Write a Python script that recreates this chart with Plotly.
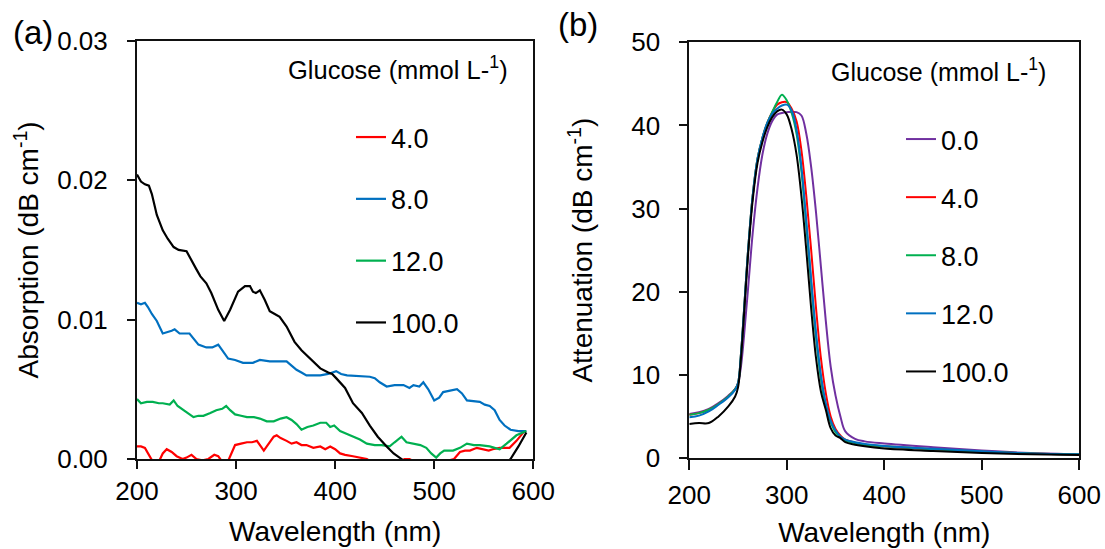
import plotly.graph_objects as go

# ---------------- data: panel (a) absorption ----------------
a_black_x = [200, 204, 208, 212, 215, 220, 226, 231, 237, 242, 250, 255, 260, 264, 270, 275, 282, 288, 294, 302,
             309, 314, 317, 320, 324, 329, 334, 339, 344, 351, 359, 366, 375, 385, 393, 397, 401, 405, 410, 418,
             427, 435, 443, 452, 459, 467, 472, 480, 500, 530, 560, 572, 577, 585, 593]
a_black_y = [0.0204, 0.0199, 0.0197, 0.0196, 0.0190, 0.0175, 0.0164, 0.0158, 0.0152, 0.0150,
             0.0149, 0.0143, 0.0136, 0.0131, 0.0126, 0.0119, 0.0107, 0.0099, 0.0107, 0.0120,
             0.0124, 0.0124, 0.0120, 0.0119, 0.0121, 0.0114, 0.0106, 0.0104, 0.0102, 0.0095,
             0.0084, 0.0078, 0.0072, 0.0065, 0.0062, 0.0061, 0.0058, 0.0055, 0.0051, 0.0040,
             0.0033, 0.0024, 0.0016, 0.0009, 0.0004, 0.0000, -0.0003, -0.0008, -0.0015, -0.0015,
             -0.0008, -0.0003, 0.0000, 0.0009, 0.0019]

a_blue_x = [200, 204, 208, 211, 215, 220, 226, 231, 235, 238, 243, 253, 258, 262, 270, 276, 282, 287, 292, 299,
            303, 307, 317, 324, 334, 351, 356, 361, 366, 371, 385, 393, 401, 406, 412, 435, 440, 445, 452, 460,
            469, 475, 479, 485, 489, 494, 500, 505, 509, 516, 523, 528, 533, 546, 551, 556, 561, 566, 571, 577,
            585, 593]
a_blue_y = [0.0112, 0.0111, 0.0112, 0.0109, 0.0104, 0.0099, 0.0090, 0.0091, 0.0092, 0.0093,
            0.0090, 0.0090, 0.0086, 0.0082, 0.0080, 0.0080, 0.0082, 0.0077, 0.0072, 0.0071,
            0.0070, 0.0069, 0.0069, 0.0071, 0.0070, 0.0070, 0.0067, 0.0064, 0.0062, 0.0060,
            0.0060, 0.0061, 0.0063, 0.0061, 0.0060, 0.0059, 0.0058, 0.0055, 0.0052, 0.0053,
            0.0053, 0.0051, 0.0053, 0.0052, 0.0055, 0.0050, 0.0042, 0.0044, 0.0048, 0.0049,
            0.0050, 0.0047, 0.0042, 0.0041, 0.0039, 0.0038, 0.0035, 0.0028, 0.0024, 0.0021,
            0.0020, 0.0020]

a_green_x = [200, 204, 210, 216, 222, 226, 233, 237, 241, 245, 251, 257, 262, 267, 274, 280, 286, 290, 294, 299,
             305, 311, 318, 324, 331, 338, 345, 351, 356, 361, 366, 372, 378, 385, 391, 395, 399, 405, 412, 418,
             425, 432, 440, 447, 455, 460, 467, 472, 480, 486, 492, 497, 502, 506, 510, 519, 526, 533, 540, 546,
             556, 566, 573, 583, 593]
a_green_y = [0.0043, 0.0040, 0.0041, 0.0041, 0.0040, 0.0040, 0.0039, 0.0042, 0.0038, 0.0036,
             0.0033, 0.0030, 0.0031, 0.0031, 0.0033, 0.0035, 0.0036, 0.0038, 0.0035, 0.0032,
             0.0031, 0.0030, 0.0030, 0.0029, 0.0027, 0.0027, 0.0029, 0.0030, 0.0028, 0.0025,
             0.0021, 0.0023, 0.0024, 0.0026, 0.0026, 0.0023, 0.0024, 0.0020, 0.0018, 0.0016,
             0.0014, 0.0011, 0.0010, 0.0010, 0.0009, 0.0012, 0.0016, 0.0012, 0.0011, 0.0010,
             0.0008, 0.0004, 0.0001, 0.0004, 0.0006, 0.0006, 0.0008, 0.0011, 0.0010, 0.0010,
             0.0009, 0.0007, 0.0011, 0.0017, 0.0020]

a_red_x = [200, 204, 208, 212, 216, 222, 226, 230, 235, 240, 246, 250, 255, 260, 266, 272, 278, 282, 287, 291,
           295, 299, 305, 311, 316, 321, 325, 328, 331, 334, 338, 341, 345, 351, 356, 361, 366, 371, 378, 385,
           390, 395, 400, 405, 410, 418, 425, 432, 440, 450, 462, 470, 475, 480, 490, 505, 515, 520, 526, 531,
           536, 543, 549, 555, 559, 566, 571, 576, 583, 591]
a_red_y = [0.0009, 0.0009, 0.0008, 0.0003, -0.0002, -0.0002, 0.0004, 0.0007, 0.0005, 0.0002,
           0.0000, 0.0001, 0.0003, 0.0000, -0.0001, 0.0000, 0.0003, 0.0002, -0.0003, -0.0003,
           0.0003, 0.0010, 0.0011, 0.0012, 0.0012, 0.0013, 0.0009, 0.0006, 0.0009, 0.0012,
           0.0016, 0.0017, 0.0015, 0.0013, 0.0011, 0.0012, 0.0010, 0.0010, 0.0008, 0.0009,
           0.0007, 0.0009, 0.0007, 0.0004, 0.0003, 0.0002, 0.0001, 0.0000, -0.0004, -0.0006,
           -0.0003, 0.0000, 0.0000, -0.0002, -0.0006, -0.0006, -0.0001, 0.0000, 0.0005, 0.0006,
           0.0006, 0.0008, 0.0007, 0.0006, 0.0007, 0.0008, 0.0008, 0.0008, 0.0013, 0.0020]

# ---------------- data: panel (b) attenuation ----------------
b_x = [200, 210, 220, 230, 240, 247, 250, 253, 256, 260, 265, 270, 275, 280, 285, 290, 295, 300, 305, 310,
       315, 320, 325, 330, 335, 340, 345, 350, 355, 360, 370, 380, 400, 450, 500, 550, 600]
b_purple = [5.3, 5.5, 5.9, 6.6, 7.5, 8.3, 9.0, 11.0, 14.5, 20.0, 27.0, 32.5, 36.5, 39.0, 40.5, 41.3, 41.5, 41.6, 41.6, 41.6,
            41.2, 39.0, 35.0, 29.5, 23.0, 16.5, 11.0, 7.5, 5.0, 3.2, 2.3, 2.0, 1.75, 1.3, 0.9, 0.6, 0.45]
b_red = [5.2, 5.4, 5.8, 6.5, 7.4, 8.3, 9.0, 12.5, 17.5, 24.5, 31.5, 36.0, 38.5, 40.3, 41.6, 42.5, 42.8, 42.8, 42.0, 40.5,
         37.0, 31.5, 25.0, 18.0, 12.0, 7.8, 5.0, 3.5, 2.7, 2.2, 1.85, 1.6, 1.4, 1.05, 0.75, 0.55, 0.45]
b_green = [5.2, 5.4, 5.8, 6.5, 7.4, 8.3, 9.0, 12.5, 17.5, 24.5, 31.5, 36.0, 38.5, 40.3, 41.6, 42.8, 43.7, 43.0, 41.5, 39.0,
           34.5, 28.0, 21.0, 14.5, 9.5, 6.3, 4.3, 3.1, 2.5, 2.1, 1.8, 1.6, 1.4, 1.05, 0.75, 0.55, 0.45]
b_blue = [4.9, 5.1, 5.6, 6.4, 7.3, 8.2, 9.0, 12.5, 17.5, 24.5, 31.5, 36.0, 38.5, 40.3, 41.4, 42.0, 42.4, 42.5, 41.8, 39.5,
          35.0, 28.5, 21.5, 15.0, 10.0, 6.6, 4.5, 3.3, 2.6, 2.2, 1.9, 1.7, 1.45, 1.1, 0.8, 0.55, 0.45]
b_black = [4.1, 4.2, 4.2, 5.0, 6.2, 7.4, 8.5, 12.0, 17.0, 24.0, 31.0, 35.5, 38.0, 39.8, 41.0, 41.7, 41.9, 41.3, 39.5, 36.5,
           31.5, 25.0, 18.0, 12.0, 8.0, 5.8, 3.6, 2.7, 2.4, 1.9, 1.6, 1.4, 1.15, 0.85, 0.6, 0.45, 0.35]

a_labels = ["4.0", "8.0", "12.0", "100.0"]
b_labels = ["0.0", "4.0", "8.0", "12.0", "100.0"]
x_ticks = [200, 300, 400, 500, 600]
a_yticks = [0.00, 0.01, 0.02, 0.03]
b_yticks = [0, 10, 20, 30, 40, 50]

# ---------------- styling ----------------
W, H = 1105, 549
FONT = "Liberation Sans, Arial, sans-serif"
RED, BLUE, GREEN, BLACK, PURPLE = "#FF0000", "#0070C0", "#00B050", "#000000", "#7030A0"

fig = go.Figure()

a_series = [(a_red_x, a_red_y, RED), (a_blue_x, a_blue_y, BLUE),
            (a_green_x, a_green_y, GREEN), (a_black_x, a_black_y, BLACK)]
for (xs, ys, col), lab in zip(a_series, a_labels):
    fig.add_trace(go.Scatter(x=xs, y=ys, mode="lines", name=lab, line=dict(color=col, width=2.2),
                             xaxis="x", yaxis="y", legend="legend", legendgroup="a" + lab))

b_series = [(b_purple, PURPLE), (b_red, RED), (b_green, GREEN), (b_blue, BLUE), (b_black, BLACK)]
for (ys, col), lab in zip(b_series, b_labels):
    fig.add_trace(go.Scatter(x=b_x, y=ys, mode="lines", name=lab, line=dict(color=col, width=2, shape="spline"),
                             xaxis="x2", yaxis="y2", legend="legend2", legendgroup="b" + lab))

axis_common = dict(showgrid=False, zeroline=False, showline=True, linecolor="#111", linewidth=2,
                   mirror=True, ticks="outside", tickcolor="#111", tickwidth=1.5,
                   tickfont=dict(family=FONT, size=26, color="black"), automargin=False)

fig.update_layout(
    width=W, height=H,
    margin=dict(l=0, r=0, t=0, b=0),
    paper_bgcolor="white", plot_bgcolor="white",
    font=dict(family=FONT, color="black"),
    xaxis=dict(axis_common, domain=[137 / W, 533.3 / W], range=[200, 600], tickvals=x_ticks, ticklen=8,
               title=dict(text="Wavelength (nm)", font=dict(size=28), standoff=16), anchor="y"),
    yaxis=dict(axis_common, domain=[1 - 459 / H, 1 - 40.7 / H], range=[0, 0.03], tickvals=a_yticks,
               tickformat=".2f", ticklen=8, ticklabelstandoff=14,
               title=dict(text="Absorption (dB cm<sup>-1</sup>)", font=dict(size=28), standoff=10), anchor="x"),
    xaxis2=dict(axis_common, domain=[689.3 / W, 1079.3 / W], range=[200, 600], tickvals=x_ticks, ticklen=10,
                ticklabelstandoff=3,
                title=dict(text="Wavelength (nm)", font=dict(size=28), standoff=13), anchor="y2"),
    yaxis2=dict(axis_common, domain=[1 - 458 / H, 1 - 42.3 / H], range=[0, 50], tickvals=b_yticks,
                ticklen=8, ticklabelstandoff=14,
                title=dict(text="Attenuation (dB cm<sup>-1</sup>)", font=dict(size=28), standoff=30), anchor="x2"),
    legend=dict(x=351 / W, y=1 - 113 / H, xanchor="left", yanchor="top", bgcolor="rgba(0,0,0,0)",
                font=dict(family=FONT, size=27), tracegroupgap=23.7, itemwidth=30),
    legend2=dict(x=901 / W, y=1 - 115 / H, xanchor="left", yanchor="top", bgcolor="rgba(0,0,0,0)",
                 font=dict(family=FONT, size=27), tracegroupgap=20, itemwidth=30),
    annotations=[
        dict(text="Glucose (mmol L-<sup>1</sup>)", x=286 / W, y=1 - 68 / H, xref="paper", yref="paper",
             xanchor="left", yanchor="middle", showarrow=False, font=dict(size=25.5)),
        dict(text="Glucose (mmol L-<sup>1</sup>)", x=829 / W, y=1 - 70 / H, xref="paper", yref="paper",
             xanchor="left", yanchor="middle", showarrow=False, font=dict(size=25)),
        dict(text="(a)", x=11 / W, y=1 - 33 / H, xref="paper", yref="paper",
             xanchor="left", yanchor="middle", showarrow=False, font=dict(size=33)),
        dict(text="(b)", x=556 / W, y=1 - 25 / H, xref="paper", yref="paper",
             xanchor="left", yanchor="middle", showarrow=False, font=dict(size=33)),
    ],
    showlegend=True,
)

fig.write_html("out.html")
